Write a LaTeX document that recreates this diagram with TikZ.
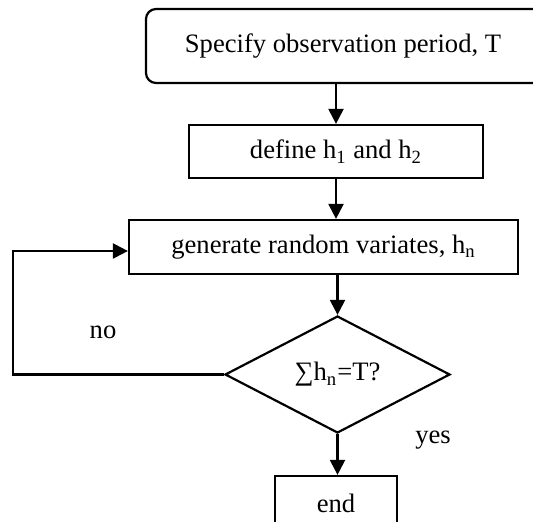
\documentclass[tikz,border=0pt]{standalone}
\usepackage{fontspec}
\setmainfont{Liberation Serif}
\usetikzlibrary{arrows.meta,shapes.geometric}
\begin{document}
\begin{tikzpicture}[x=0.5pt,y=-0.5pt,
  every node/.style={font=\fontsize{13.3}{15}\selectfont},
  box/.style={draw,line width=1.1pt,inner sep=0pt,align=center},
  dec/.style={draw,line width=1.1pt,shape=diamond,inner sep=0pt,minimum width=112.5pt,minimum height=58.5pt},
  arr/.style={line width=1.1pt,-{Triangle[length=7.5pt,width=7.5pt]}},
  lbl/.style={inner sep=0pt}]
\useasboundingbox (0,0) rectangle (533,522);
\clip (0,0) rectangle (533,522);
\node[box,rounded corners=5pt,minimum width=201pt,minimum height=37pt] (spec) at (347,46) {\hspace*{-4pt}Specify observation period, T};
\node[box,minimum width=147pt,minimum height=26.5pt] (def) at (336,151.5) {define h\textsubscript{1} and h\textsubscript{2}};
\node[box,minimum width=194.5pt,minimum height=27pt] (gen) at (323.5,247) {generate random variates, h\textsubscript{n}};
\node[dec] (dia) at (337.5,374.5) {∑h\textsubscript{n}=T?};
\node[box,minimum width=61pt,minimum height=27pt] (fin) at (336,503) {end};
\coordinate (fb) at (13,374.5);
\node[lbl] (no) at (103,332) {no};
\node[lbl] (yes) at (433,440) {yes};
\draw[arr] (def.north |- spec.south) -- (def.north);
\draw[arr] (def.south) -- (def.south |- gen.north);
\draw[arr] (dia.north |- gen.south) -- (dia.north);
\draw[arr] (dia.south) -- (dia.south |- fin.north);
\draw[arr] (dia.west) -- (fb) |- ([yshift=-2pt]gen.west);
\end{tikzpicture}
\end{document}
